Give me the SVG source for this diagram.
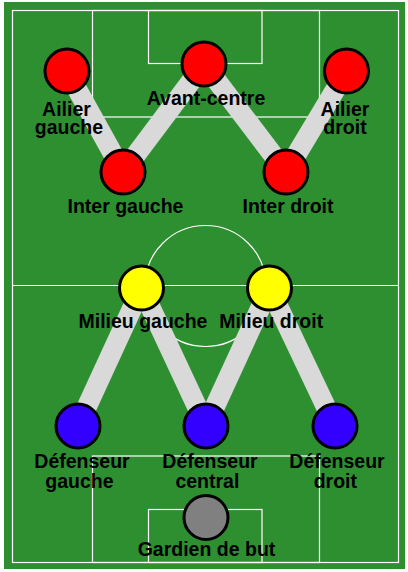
<svg xmlns="http://www.w3.org/2000/svg" width="408" height="572" viewBox="0 0 408 572">
<style>
.field{fill:none;stroke:#ffffff;stroke-width:1.2}
.link{stroke:#d9d9d9;stroke-width:20;stroke-linecap:butt}
.p{stroke:#000;stroke-width:3}
.att{fill:#ff0000}
.mid{fill:#ffff00}
.def{fill:#3300ff}
.gk{fill:#808080}
text{font-family:"Liberation Sans",Arial,sans-serif;font-weight:bold;font-size:19.5px;fill:#000;text-anchor:middle}
</style>
<rect x="0" y="0" width="408" height="572" fill="#ffffff"/>
<g id="pitch">
<rect x="4" y="2" width="401" height="567" fill="#2e8f31"/>
<rect class="field" x="12.5" y="10.5" width="386" height="552"/>
<line class="field" x1="12.5" y1="285.5" x2="398.5" y2="285.5"/>
<circle class="field" cx="205.5" cy="286" r="60.5"/>
<rect class="field" x="92.5" y="10.5" width="227" height="106.5"/>
<rect class="field" x="148.5" y="10.5" width="113.5" height="53"/>
<rect class="field" x="92.5" y="456" width="227" height="106.5"/>
<rect class="field" x="148.5" y="509.5" width="113.5" height="53"/>
</g>
<g id="connectors">
<line class="link" x1="67" y1="71" x2="123" y2="172"/>
<line class="link" x1="123" y1="172" x2="204" y2="64"/>
<line class="link" x1="204" y1="64" x2="286" y2="172"/>
<line class="link" x1="286" y1="172" x2="346.5" y2="71"/>
<line class="link" x1="141.5" y1="288" x2="78" y2="426"/>
<line class="link" x1="141.5" y1="288" x2="206" y2="426"/>
<line class="link" x1="269.5" y1="288" x2="206" y2="426"/>
<line class="link" x1="269.5" y1="288" x2="335" y2="426"/>
</g>
<g id="ailier-gauche">
<circle class="p att" cx="67" cy="71" r="22"/>
<text><tspan x="66.5" y="115.5">Ailier</tspan><tspan x="69" y="134">gauche</tspan></text>
</g>
<g id="avant-centre">
<circle class="p att" cx="204" cy="64" r="22"/>
<text x="206" y="104.5">Avant-centre</text>
</g>
<g id="ailier-droit">
<circle class="p att" cx="346.5" cy="71" r="22"/>
<text><tspan x="345" y="115.5">Ailier</tspan><tspan x="345" y="134">droit</tspan></text>
</g>
<g id="inter-gauche">
<circle class="p att" cx="123" cy="172" r="22"/>
<text x="125.5" y="213.3">Inter gauche</text>
</g>
<g id="inter-droit">
<circle class="p att" cx="286" cy="172" r="22"/>
<text x="288" y="213.3">Inter droit</text>
</g>
<g id="milieu-gauche">
<circle class="p mid" cx="141.5" cy="288" r="22"/>
<text x="143" y="328.3">Milieu gauche</text>
</g>
<g id="milieu-droit">
<circle class="p mid" cx="269.5" cy="288" r="22"/>
<text x="271.2" y="328.3">Milieu droit</text>
</g>
<g id="defenseur-gauche">
<circle class="p def" cx="78" cy="426" r="22"/>
<text><tspan x="82" y="468.3">Défenseur</tspan><tspan x="79.5" y="487.5">gauche</tspan></text>
</g>
<g id="defenseur-central">
<circle class="p def" cx="206" cy="426" r="22"/>
<text><tspan x="210" y="468.3">Défenseur</tspan><tspan x="207.4" y="487.5">central</tspan></text>
</g>
<g id="defenseur-droit">
<circle class="p def" cx="335" cy="426" r="22"/>
<text><tspan x="337" y="468.3">Défenseur</tspan><tspan x="335.3" y="487.5">droit</tspan></text>
</g>
<g id="gardien">
<circle class="p gk" cx="206" cy="517.5" r="22"/>
<text x="206.5" y="556">Gardien de but</text>
</g>
</svg>
